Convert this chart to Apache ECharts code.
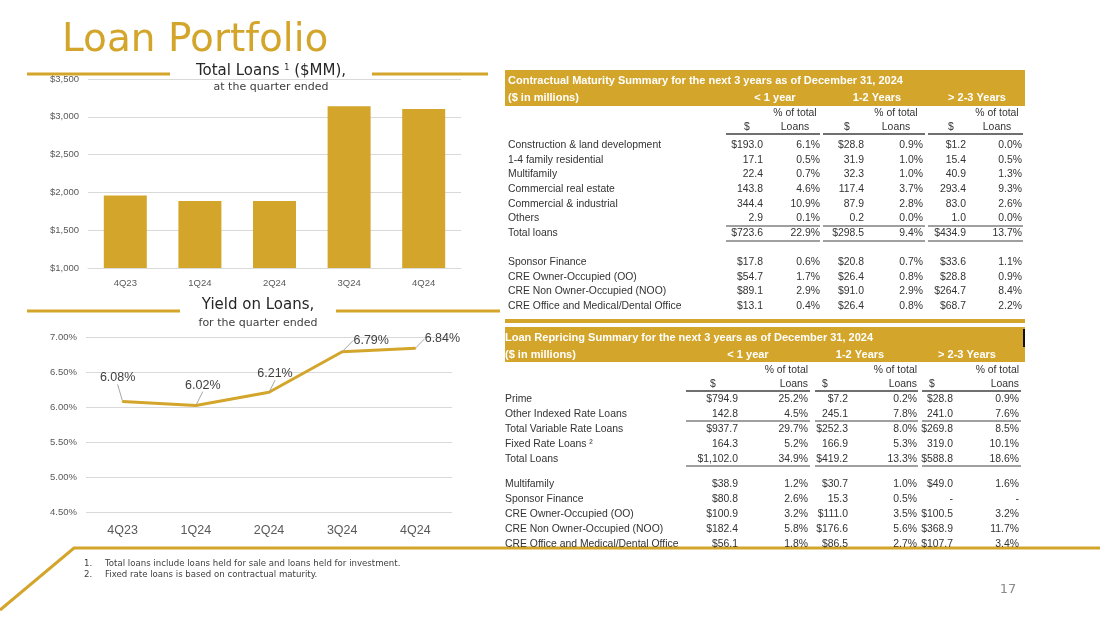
<!DOCTYPE html>
<html>
<head>
<meta charset="utf-8">
<script src="https://cdn.jsdelivr.net/npm/echarts@6/dist/echarts.min.js"></script>
<style>
html,body{margin:0;padding:0;background:#fff;}
#c{width:1100px;height:617px;}
</style>
</head>
<body>
<div id="c"></div>
<script>
// ---------- DATA ----------
const quarters = ['4Q23', '1Q24', '2Q24', '3Q24', '4Q24'];
const totalLoans = [1960, 1886, 1886, 3141, 3102];
const loanYield = [6.08, 6.02, 6.21, 6.79, 6.84];

const periodHeaders = ['< 1 year', '1-2 Years', '> 2-3 Years'];

const maturityRows = ['Construction & land development', '1-4 family residential', 'Multifamily',
  'Commercial real estate', 'Commercial & industrial', 'Others', 'Total loans'];
const maturityValues = [
  ['$193.0', '6.1%', '$28.8', '0.9%', '$1.2', '0.0%'],
  ['17.1', '0.5%', '31.9', '1.0%', '15.4', '0.5%'],
  ['22.4', '0.7%', '32.3', '1.0%', '40.9', '1.3%'],
  ['143.8', '4.6%', '117.4', '3.7%', '293.4', '9.3%'],
  ['344.4', '10.9%', '87.9', '2.8%', '83.0', '2.6%'],
  ['2.9', '0.1%', '0.2', '0.0%', '1.0', '0.0%'],
  ['$723.6', '22.9%', '$298.5', '9.4%', '$434.9', '13.7%']
];
const maturitySubRows = ['Sponsor Finance', 'CRE Owner-Occupied (OO)', 'CRE Non Owner-Occupied (NOO)',
  'CRE Office and Medical/Dental Office'];
const maturitySubValues = [
  ['$17.8', '0.6%', '$20.8', '0.7%', '$33.6', '1.1%'],
  ['$54.7', '1.7%', '$26.4', '0.8%', '$28.8', '0.9%'],
  ['$89.1', '2.9%', '$91.0', '2.9%', '$264.7', '8.4%'],
  ['$13.1', '0.4%', '$26.4', '0.8%', '$68.7', '2.2%']
];

const repricingRows = ['Prime', 'Other Indexed Rate Loans', 'Total Variable Rate Loans',
  'Fixed Rate Loans \u00B2', 'Total Loans'];
const repricingValues = [
  ['$794.9', '25.2%', '$7.2', '0.2%', '$28.8', '0.9%'],
  ['142.8', '4.5%', '245.1', '7.8%', '241.0', '7.6%'],
  ['$937.7', '29.7%', '$252.3', '8.0%', '$269.8', '8.5%'],
  ['164.3', '5.2%', '166.9', '5.3%', '319.0', '10.1%'],
  ['$1,102.0', '34.9%', '$419.2', '13.3%', '$588.8', '18.6%']
];
const repricingSubRows = ['Multifamily', 'Sponsor Finance', 'CRE Owner-Occupied (OO)',
  'CRE Non Owner-Occupied (NOO)', 'CRE Office and Medical/Dental Office'];
const repricingSubValues = [
  ['$38.9', '1.2%', '$30.7', '1.0%', '$49.0', '1.6%'],
  ['$80.8', '2.6%', '15.3', '0.5%', '-', '-'],
  ['$100.9', '3.2%', '$111.0', '3.5%', '$100.5', '3.2%'],
  ['$182.4', '5.8%', '$176.6', '5.6%', '$368.9', '11.7%'],
  ['$56.1', '1.8%', '$86.5', '2.7%', '$107.7', '3.4%']
];

const footnotes = ['Total loans include loans held for sale and loans held for investment.',
  'Fixed rate loans is based on contractual maturity.'];

// ---------- STYLE ----------
const GOLD = '#D3A52B';
const TXT = '#333333';
const TF = '"Liberation Sans", Arial, sans-serif';
const GF = '"DejaVu Sans", sans-serif';
const TS = 10.4;

const chart = echarts.init(document.getElementById('c'));
const G = [];

function txt(s, x, y, o) {
  o = o || {};
  G.push({
    type: 'text', x: x, y: y, z: 10,
    style: {
      text: s, fill: o.fill || TXT,
      fontSize: o.size || TS, fontFamily: o.family || TF,
      fontWeight: o.weight || 'normal',
      align: o.align || 'left', verticalAlign: o.va || 'middle'
    }
  });
}
function line(x1, y1, x2, y2, color, w) {
  G.push({ type: 'line', z: 5, shape: { x1: x1, y1: y1, x2: x2, y2: y2 },
    style: { stroke: color, lineWidth: w } });
}
function rect(x, y, w, h, color) {
  G.push({ type: 'rect', z: 4, shape: { x: x, y: y, width: w, height: h }, style: { fill: color } });
}

// Slide title & decorations
txt('Loan Portfolio', 62, 41, { size: 39, family: GF, fill: GOLD });
line(27, 74, 170, 74, GOLD, 3);
line(372, 74, 488, 74, GOLD, 3);
line(27, 311, 180, 311, GOLD, 3);
line(336, 311, 500, 311, GOLD, 3);
G.push({ type: 'polyline', z: 5, shape: { points: [[0, 610], [74, 548], [1100, 548]] },
  style: { stroke: GOLD, lineWidth: 3, fill: null } });

// chart titles
G.push({ type: 'text', x: 271, y: 71, z: 10, style: {
  text: '{a|Total Loans }{s|1}{a| ($MM),}', align: 'center', verticalAlign: 'middle',
  rich: { a: { fontSize: 15, fontFamily: GF, fill: '#262626' },
          s: { fontSize: 8, fontFamily: GF, fill: '#262626', verticalAlign: 'top', padding: [0, 0, 6, 0] } } } });
txt('at the quarter ended', 271, 87, { size: 11, family: GF, fill: '#404040', align: 'center' });
txt('Yield on Loans,', 258, 305, { size: 15, family: GF, fill: '#262626', align: 'center' });
txt('for the quarter ended', 258, 323, { size: 11, family: GF, fill: '#404040', align: 'center' });

// footnotes & page number
footnotes.forEach(function (f, i) {
  txt((i + 1) + '.', 84, 564 + i * 11, { size: 8.6, family: GF, fill: '#404040' });
  txt(f, 105, 564 + i * 11, { size: 8.6, family: GF, fill: '#404040' });
});
txt('17', 1008, 590, { size: 13, family: GF, fill: '#8C8C8C', align: 'center' });

// ---------- TABLE BUILDER ----------
function buildTable(t) {
  rect(505, t.boxTop, 520, t.boxH, GOLD);
  txt(t.title, t.labelX, t.boxTop + 10.5, { fill: '#fff', weight: 'bold', size: 11 });
  txt('($ in millions)', t.labelX, t.boxTop + 27.5, { fill: '#fff', weight: 'bold', size: 11 });
  periodHeaders.forEach(function (p, i) {
    txt(p, t.periodX[i], t.boxTop + 27.5, { fill: '#fff', weight: 'bold', size: 11, align: 'center' });
  });
  for (let g = 0; g < 3; g++) {
    txt('$', t.dollarX[g], t.hdrY2, { align: 'center' });
    txt('% of total', t.pctX[g], t.hdrY1, { align: t.pctAlign });
    txt('Loans', t.pctX[g], t.hdrY2, { align: t.pctAlign });
    line(t.groups[g][0], t.hdrY2 + 7, t.groups[g][1], t.hdrY2 + 7, '#404040', 1.5);
  }
  t.rows.forEach(function (r, i) {
    const y = t.rowY[i];
    txt(r, t.labelX, y);
    t.values[i].forEach(function (v, j) { txt(v, t.colR[j], y, { align: 'right' }); });
  });
  t.subRows.forEach(function (r, i) {
    const y = t.subRowY[i];
    txt(r, t.labelX, y);
    t.subValues[i].forEach(function (v, j) { txt(v, t.colR[j], y, { align: 'right' }); });
  });
  t.rules.forEach(function (ry) {
    for (let g = 0; g < 3; g++) line(t.groups[g][0], ry, t.groups[g][1], ry, '#404040', 1);
  });
}

buildTable({
  boxTop: 70, boxH: 36, labelX: 508,
  title: 'Contractual Maturity Summary for the next 3 years as of December 31, 2024',
  periodX: [775, 877, 977],
  dollarX: [747, 847, 951], pctX: [795, 896, 997], pctAlign: 'center',
  hdrY1: 113, hdrY2: 127,
  groups: [[726, 820], [823, 925], [928, 1023]],
  colR: [763, 820, 864, 923, 966, 1022],
  rows: maturityRows, values: maturityValues,
  rowY: [145, 160, 174, 189, 204, 218, 233],
  subRows: maturitySubRows, subValues: maturitySubValues,
  subRowY: [262, 277, 291, 306],
  rules: [226, 241]
});
rect(505, 319, 520, 4, GOLD);

buildTable({
  boxTop: 327, boxH: 35, labelX: 505,
  title: 'Loan Repricing Summary for the next 3 years as of December 31, 2024',
  periodX: [748, 860, 967],
  dollarX: [713, 825, 932], pctX: [808, 917, 1019], pctAlign: 'right',
  hdrY1: 370, hdrY2: 384,
  groups: [[686, 810], [815, 918], [922, 1021]],
  colR: [738, 808, 848, 917, 953, 1019],
  rows: repricingRows, values: repricingValues,
  rowY: [399, 414, 429, 444, 459],
  subRows: repricingSubRows, subValues: repricingSubValues,
  subRowY: [484, 499, 514, 529, 544],
  rules: [421, 466]
});
rect(1023, 329, 2, 18, '#111');

// ---------- CHARTS ----------
const labelShift = [[-5, -11], [7, -8], [6, -6], [29, 1], [27, 3]];

chart.setOption({
  animation: false,
  backgroundColor: '#fff',
  grid: [
    { left: 88, top: 79, width: 373, height: 189 },
    { left: 86, top: 337, width: 366, height: 175 }
  ],
  xAxis: [
    { type: 'category', gridIndex: 0, data: quarters,
      axisLine: { lineStyle: { color: '#D9D9D9' } }, axisTick: { show: false },
      axisLabel: { color: '#595959', fontSize: 9.5, fontFamily: TF, margin: 10 } },
    { type: 'category', gridIndex: 1, data: quarters,
      axisLine: { show: false }, axisTick: { show: false },
      axisLabel: { color: '#595959', fontSize: 12.5, fontFamily: TF, margin: 12 } }
  ],
  yAxis: [
    { type: 'value', gridIndex: 0, min: 1000, max: 3500, interval: 500,
      axisLine: { show: false }, axisTick: { show: false },
      splitLine: { lineStyle: { color: '#D9D9D9' } },
      axisLabel: { color: '#595959', fontSize: 9.5, fontFamily: TF, margin: 9,
        formatter: function (v) { return '$' + v.toLocaleString('en-US'); } } },
    { type: 'value', gridIndex: 1, min: 4.5, max: 7, interval: 0.5,
      axisLine: { show: false }, axisTick: { show: false },
      splitLine: { lineStyle: { color: '#D9D9D9' } },
      axisLabel: { color: '#595959', fontSize: 9.5, fontFamily: TF, margin: 9,
        formatter: function (v) { return v.toFixed(2) + '%'; } } }
  ],
  series: [
    { type: 'bar', xAxisIndex: 0, yAxisIndex: 0, data: totalLoans, barWidth: 43,
      itemStyle: { color: GOLD } },
    { type: 'line', xAxisIndex: 1, yAxisIndex: 1, data: loanYield,
      symbol: 'circle', symbolSize: 2, showSymbol: true,
      itemStyle: { color: GOLD }, lineStyle: { color: GOLD, width: 3 },
      label: { show: true, position: 'top', distance: 5, color: '#404040', fontSize: 12.5, fontFamily: TF,
        formatter: function (p) { return p.value.toFixed(2) + '%'; } },
      labelLine: { show: true, lineStyle: { color: '#A6A6A6', width: 1 } },
      labelLayout: function (p) { const s = labelShift[p.dataIndex]; return { dx: s[0], dy: s[1] }; } }
  ],
  graphic: G
});
</script>
</body>
</html>
